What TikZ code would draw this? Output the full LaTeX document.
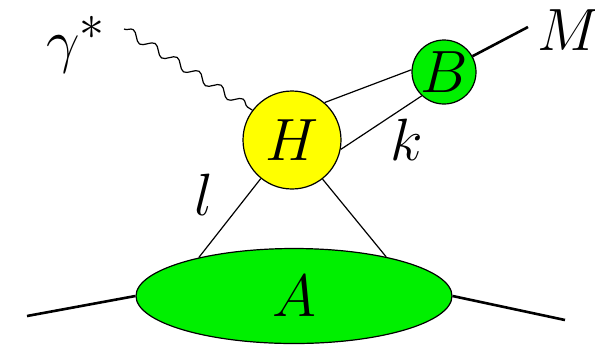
\documentclass[tikz,border=0pt]{standalone}
\usetikzlibrary{shapes.geometric}
\usetikzlibrary{decorations.pathmorphing}

\definecolor{hardyellow}{RGB}{255,255,0}
\definecolor{blobgreen}{RGB}{0,240,0}
\newcommand{\diaglabel}[1]{\scalebox{1.2}{$#1$}}

\begin{document}
\begin{tikzpicture}[x=0.5pt, y=-0.5pt,
    font=\Huge,
    blob/.style={draw, line width=0.6pt, inner sep=0pt},
    leg/.style={line width=0.6pt},
    ext/.style={line width=1.3pt},
    lbl/.style={inner sep=0pt}]
    \useasboundingbox (0,0) rectangle (595,345);

    % blobs
    \node[blob, circle, fill=hardyellow, minimum size=49pt] (H) at (292,140) {\diaglabel{H}};
    \node[blob, circle, fill=blobgreen, minimum size=32pt] (B) at (444,72) {\diaglabel{B}};
    \node[blob, ellipse, fill=blobgreen, minimum width=158pt, minimum height=47.5pt] (A) at (294,296) {\diaglabel{A}};

    \coordinate (gin) at (124,29);
    \coordinate (mout) at (528,27);
    \coordinate (ain) at (27,316);
    \coordinate (aout) at (565,320);

    % photon
    \draw[leg, decorate, decoration={snake, amplitude=2.2pt, segment length=13pt}] (gin) -- (H.143);

    % internal lines
    \draw[leg] (H.49) -- (B.176);
    \draw[leg] (H.349) -- (B.227);
    \draw[leg] (H.231) -- (A.158);
    \draw[leg] (H.308) -- (A.23);

    % external lines
    \draw[ext] (B.29) -- (mout);
    \draw[ext] (ain) -- (A.west);
    \draw[ext] (A.east) -- (aout);

    \node[lbl] (gam) at (76,45) {\diaglabel{\gamma^*}};
    \node[lbl] (lM) at (569,30) {\diaglabel{M}};
    \node[lbl] (lk) at (407,140) {\diaglabel{k}};
    \node[lbl] (ll) at (204,195) {\diaglabel{l}};
\end{tikzpicture}
\end{document}
